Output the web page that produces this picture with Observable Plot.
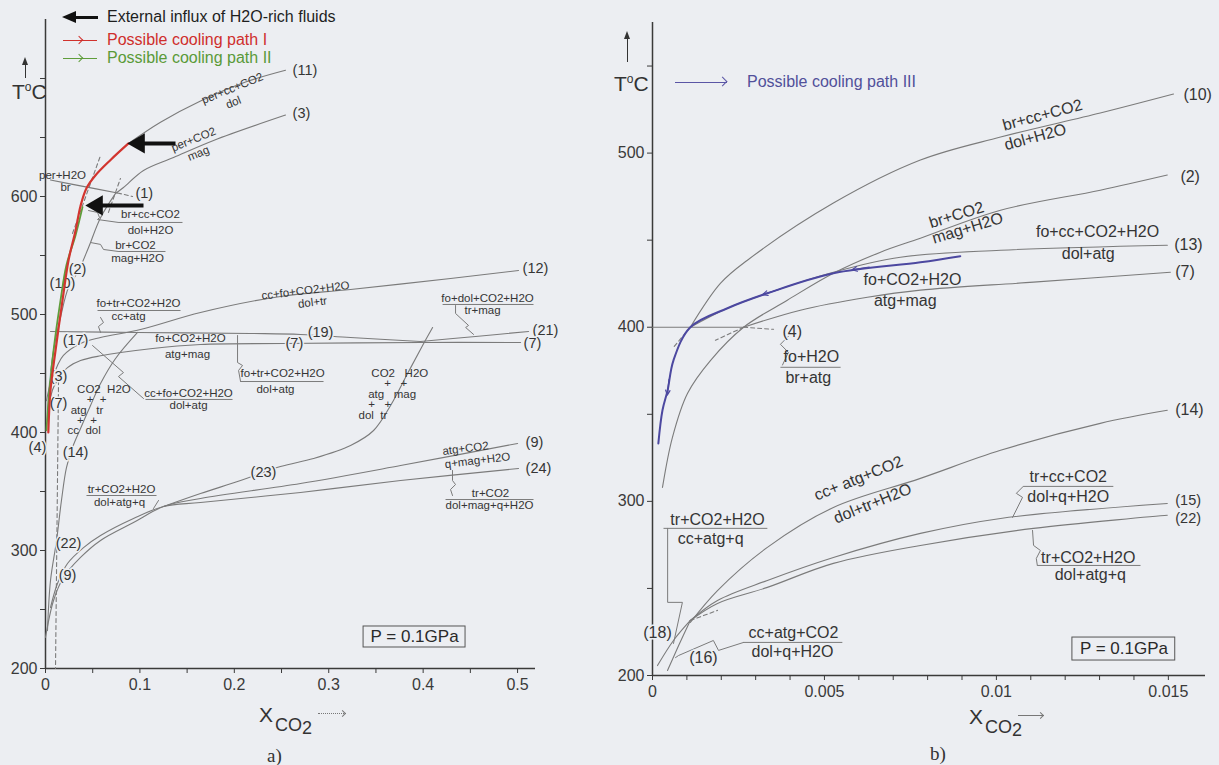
<!DOCTYPE html>
<html><head><meta charset="utf-8">
<script src="https://cdn.jsdelivr.net/npm/d3@7"></script>
<script src="https://cdn.jsdelivr.net/npm/@observablehq/plot@0.6"></script>
<style>
html,body{margin:0;padding:0;background:#eceef2;}
#page{position:relative;width:1219px;height:765px;overflow:hidden;font-family:"Liberation Sans",Arial,Helvetica,sans-serif;color:#333;}
.panel{position:absolute;top:0;}
.abs{position:absolute;white-space:nowrap;line-height:1;}
.hl{position:absolute;height:0;}
.vl{position:absolute;width:0;}
.triL{position:absolute;width:0;height:0;border-top:6px solid transparent;border-bottom:6px solid transparent;border-right:14px solid #111;}
.triU{position:absolute;width:0;height:0;border-left:3px solid transparent;border-right:3px solid transparent;border-bottom:8px solid #333;}
.chev{position:absolute;width:5px;height:5px;transform:rotate(45deg);}
</style></head>
<body><div id="page">
<div id="pa" class="panel" style="left:0;width:600px;height:765px"></div>
<div id="pb" class="panel" style="left:600px;width:619px;height:765px"></div>

<!-- legend panel a -->
<div class="triL" style="left:62px;top:11px"></div>
<div class="hl" style="left:75px;top:15.5px;width:23px;border-top:3px solid #111"></div>
<div class="abs" style="left:107px;top:9px;font-size:16px;color:#1e1e1e">External influx of H2O-rich fluids</div>
<div class="hl" style="left:63px;top:39.5px;width:34px;border-top:1.5px solid #d0312d"></div>
<div class="chev" style="left:76px;top:37px;border-top:1.3px solid #d0312d;border-right:1.3px solid #d0312d"></div>
<div class="abs" style="left:107px;top:32px;font-size:16px;color:#cf2e2c">Possible cooling path I</div>
<div class="hl" style="left:63px;top:57.5px;width:34px;border-top:1.5px solid #5f9d3b"></div>
<div class="chev" style="left:76px;top:55px;border-top:1.3px solid #5f9d3b;border-right:1.3px solid #5f9d3b"></div>
<div class="abs" style="left:107px;top:50px;font-size:16px;color:#5a9a38">Possible cooling path II</div>

<!-- T axis labels -->
<div class="triU" style="left:22px;top:57px"></div>
<div class="vl" style="left:24.5px;top:62px;height:16px;border-left:1.3px solid #333"></div>
<div class="abs" style="left:12px;top:81px;font-size:21px">T<sup style="font-size:12px">o</sup>C</div>
<div class="triU" style="left:624px;top:31px"></div>
<div class="vl" style="left:626.5px;top:36px;height:26px;border-left:1.3px solid #333"></div>
<div class="abs" style="left:614px;top:73px;font-size:21px">T<sup style="font-size:12px">o</sup>C</div>

<!-- legend panel b -->
<div class="hl" style="left:675px;top:81.5px;width:52px;border-top:1.3px solid #5a55a5"></div>
<div class="chev" style="left:719px;top:78px;width:6px;height:6px;border-top:1.3px solid #5a55a5;border-right:1.3px solid #5a55a5"></div>
<div class="abs" style="left:747px;top:74px;font-size:16px;color:#51509a">Possible cooling path III</div>

<!-- X axis titles -->
<div class="abs" style="left:259px;top:704px;font-size:21px">X<span style="font-size:18px;position:relative;top:9px;margin-left:2px">CO<span style="position:relative;top:3px">2</span></span></div>
<div class="hl" style="left:318px;top:713px;width:28px;border-top:1px dotted #777"></div>
<div class="chev" style="left:340px;top:710.5px;width:4px;height:4px;border-top:1px solid #777;border-right:1px solid #777"></div>
<div class="abs" style="left:267px;top:746px;font-size:19px;font-family:'Liberation Serif',serif">a)</div>

<div class="abs" style="left:969px;top:706px;font-size:21px">X<span style="font-size:18px;position:relative;top:9px;margin-left:2px">CO<span style="position:relative;top:3px">2</span></span></div>
<div class="hl" style="left:1018px;top:715px;width:26px;border-top:1px solid #777"></div>
<div class="chev" style="left:1038px;top:712.5px;width:4px;height:4px;border-top:1px solid #777;border-right:1px solid #777"></div>
<div class="abs" style="left:930px;top:744px;font-size:19px;font-family:'Liberation Serif',serif">b)</div>
</div>

<script>
const sp = n => "\u00A0".repeat(n);
// ================= Panel a  (X_CO2 , T in °C) =================
const a_xDomain = [0, 0.519];
const a_yDomain = [200, 750];
const a_xTicks = [0,0.05,0.1,0.15,0.2,0.25,0.3,0.35,0.4,0.45,0.5];
const a_xTickLabels = [0,0.1,0.2,0.3,0.4,0.5];
const a_yTicks = [200,250,300,350,400,450,500,550,600,650,700];
const a_yTickLabels = [200,300,400,500,600];

const a_curve11 = [[0.0879,645],[0.1218,663],[0.1642,681],[0.2119,697],[0.2542,707]];
const a_curve1  = [[0.0053,614],[0.0371,609],[0.0763,603]];
const a_curve3  = [[0.0742,602.6],[0.0826,607.6],[0.1038,622],[0.1356,633],[0.178,647.5],[0.2542,669]];
const a_curve2  = [[0.0742,602.6],[0.0583,582],[0.0456,556.8],[0.035,537],[0.0244,523],[0.0159,497.5],[0.0085,469.5],[0.0042,441.5],[0.002,410]];
const a_curve12 = [[0.001,427],[0.0053,441.5],[0.0127,456.8],[0.019,465.3],[0.0371,475.4],[0.0583,480.5],[0.1006,487.3],[0.1642,501.7],[0.2489,515.3],[0.3231,521.2],[0.429,530.5],[0.5011,537.3]];
const a_curve17 = [[0.0053,485.6],[0.0975,484.8],[0.2172,483.9],[0.2701,483.1],[0.3231,480.5],[0.3972,477.1]];
const a_curve21 = [[0.3972,477.1],[0.4555,481.4],[0.5117,485.6]];
const a_curve7  = [[0.003,413],[0.0074,436],[0.0159,448],[0.0233,455],[0.0371,461],[0.0583,465],[0.1112,471],[0.1642,474.6],[0.2521,475.4],[0.3972,476.3],[0.5032,476.3]];
const a_curve14 = [[0.0975,484.8],[0.0742,462.7],[0.0583,441.5],[0.0477,422.9],[0.0371,403.4],[0.0286,387.3],[0.0222,370.3],[0.0169,342.4],[0.0117,308.5],[0.0053,274.6],[0.0021,232.2]];
const a_curve23 = [[0.125,337.3],[0.1642,348.3],[0.2066,359.3],[0.2489,371.2],[0.2839,378],[0.3231,389],[0.3475,401.7],[0.3655,422.9],[0.3835,450],[0.3994,473.7],[0.41,489]];
const a_curve9  = [[0,226.3],[0.0085,257.6],[0.019,277.1],[0.0371,294.1],[0.0583,308.5],[0.0932,323.7],[0.125,337.3],[0.1642,344.1],[0.2701,356.8],[0.3761,372],[0.5,390.7]];
const a_curve22 = [[0.0053,251.7],[0.0127,272],[0.0233,289],[0.0403,302.5],[0.0583,312.7],[0.0932,327.1],[0.125,337.3],[0.1642,340.7],[0.2701,349.2],[0.3761,359.3],[0.5011,369.5]];
const a_dashed = [
  [[0.0286,568.7],[0.0583,634.8]],
  [[0.0667,586.5],[0.0794,615.3]],
  [[0.0763,603],[0.0922,600]],
  [[0.0138,444],[0.0106,200]]
];
const a_pathI  = [[0.0879,645],[0.0689,631],[0.053,618],[0.0434,607],[0.0371,592],[0.0318,571],[0.0244,546],[0.018,512],[0.0106,469.5],[0.0053,436],[0.003,400]];
const a_pathII = [[0.0392,591],[0.0318,567],[0.0222,542],[0.0159,512],[0.0085,469.5],[0.0042,436],[0.001,402]];
const a_influx = [
  {x1:0.1038, y1:592.4, x2:0.0545, y2:592.4},
  {x1:0.1377, y1:645,   x2:0.0990, y2:645}
];
const a_bars = [
  {x1:0.0773,x2:0.1451,y:578},{x1:0.0773,x2:0.1271,y:553.4},{x1:0.0551,x2:0.143,y:503.4},
  {x1:0.1059,x2:0.1981,y:428},{x1:0.2066,x2:0.2945,y:443.2},{x1:0.4206,x2:0.5169,y:508.5},
  {x1:0.4237,x2:0.5169,y:343.2},{x1:0.0434,x2:0.1176,y:346.6}
];
const a_pointers = [
  [[0.0583,497.5],[0.0614,493.2],[0.0561,489.8],[0.0583,484.8]],
  [[0.0498,473.7],[0.0826,450.8],[0.0773,447.4],[0.1038,428.8]],
  [[0.2034,482.2],[0.2034,459.3],[0.2087,456.8],[0.2045,452.6],[0.2066,443.2]],
  [[0.4343,507.6],[0.4343,500.9],[0.4481,490.7],[0.445,489],[0.4534,483.1]],
  [[0.4311,367.8],[0.4311,359.3],[0.4343,355.9],[0.429,351.7],[0.4311,346.6]],
  [[0.1197,342.4],[0.1144,335.6]],
  [[0.0456,588.1],[0.0551,586.5],[0.0572,582.2],[0.0551,580.5],[0.0773,578]],
  [[0.0477,561],[0.0583,559.4],[0.0614,555.1],[0.0773,553.4]]
];
const a_reactionLabels = [
  {t:"per+cc+CO2",x:0.198,y:691.6,r:-22},{t:"dol",x:0.199,y:679.7,r:-22},
  {t:"per+CO2",x:0.1568,y:648.3,r:-22},{t:"mag",x:0.162,y:636.5,r:-22},
  {t:"per+H2O",x:0.018,y:617.8,r:0},{t:"br",x:0.0212,y:607.6,r:0},
  {t:"br+cc+CO2",x:0.1112,y:584.8,r:0},{t:"dol+H2O",x:0.1112,y:571.2,r:0},
  {t:"br+CO2",x:0.0953,y:558.5,r:0},{t:"mag+H2O",x:0.0975,y:548,r:0},
  {t:"fo+tr+CO2+H2O",x:0.0985,y:509.3,r:0},{t:"cc+atg",x:0.0879,y:498.3,r:0},
  {t:"fo+CO2+H2O",x:0.1536,y:479.5,r:0},{t:"atg+mag",x:0.1504,y:466,r:0},
  {t:"cc+fo+CO2+H2O",x:0.2754,y:520.3,r:-7},{t:"dol+tr",x:0.2828,y:510.2,r:-7},
  {t:"fo+dol+CO2+H2O",x:0.4682,y:513.6,r:0},{t:"tr+mag",x:0.4629,y:503.4,r:0},
  {t:"fo+tr+CO2+H2O",x:0.2511,y:450,r:0},{t:"dol+atg",x:0.2436,y:436.5,r:0},
  {t:"cc+fo+CO2+H2O",x:0.1515,y:433,r:0},{t:"dol+atg",x:0.1515,y:422.9,r:0},
  {t:"atg+CO2",x:0.4449,y:386.5,r:-7},{t:"q+mag+H2O",x:0.4576,y:376.3,r:-7},
  {t:"tr+CO2",x:0.4714,y:348.3,r:0},{t:"dol+mag+q+H2O",x:0.4703,y:338.1,r:0},
  {t:"tr+CO2+H2O",x:0.0805,y:351.7,r:0},{t:"dol+atg+q",x:0.0784,y:340.7,r:0}
];
// phase-field annotations on both sides of the two steep curves (one block per field group)
const a_groupLeft = [{x:0.0233, y:418.9, t:[
  sp(3)+"CO2"+sp(2)+"H2O", sp(6)+"+"+sp(2)+"+", sp(1)+"atg"+sp(3)+"tr", sp(3)+"+"+sp(2)+"+", "cc"+sp(2)+"dol"].join("\n")}];
const a_groupRight = [{x:0.3316, y:432.2, t:[
  sp(4)+"CO2"+sp(3)+"H2O", sp(8)+"+"+sp(3)+"+", sp(3)+"atg"+sp(3)+"mag", sp(3)+"+"+sp(3)+"+", "dol"+sp(2)+"tr"].join("\n")}];
const a_numLabelsStart = [
  {t:"(11)",x:0.2617,y:706.8},{t:"(3)",x:0.2617,y:670.4},{t:"(1)",x:0.0953,y:602.6},
  {t:"(12)",x:0.5053,y:539},{t:"(21)",x:0.5159,y:486.5},{t:"(7)",x:0.5064,y:475.4},
  {t:"(9)",x:0.5085,y:391.5},{t:"(24)",x:0.5085,y:369.5},{t:"(7)",x:0.2542,y:475.4}
];
const a_numLabelsMid = [
  {t:"(2)",x:0.0339,y:538.2},{t:"(10)",x:0.018,y:526.3},{t:"(17)",x:0.0318,y:478},
  {t:"(19)",x:0.2913,y:484.8},{t:"(3)",x:0.0138,y:447.5},{t:"(7)",x:0.0138,y:424.6},
  {t:"(4)",x:-0.0085,y:387.3},{t:"(14)",x:0.0318,y:383},{t:"(23)",x:0.2309,y:366},
  {t:"(22)",x:0.0244,y:306},{t:"(9)",x:0.0233,y:278.8}
];
const a_pBox = [{x1:0.3369,x2:0.4449,y1:217.8,y2:235.6,t:"P = 0.1GPa",x:0.3909,y:226.7}];

// ================= Panel b =================
const b_xDomain = [0, 0.01608];
const b_yDomain = [200, 575];
const b_xTicks = [0,0.001,0.002,0.003,0.004,0.005,0.006,0.007,0.008,0.009,0.01,0.011,0.012,0.013,0.014,0.015];
const b_xTickLabels = [0,0.005,0.01,0.015];
const b_yTicks = [200,250,300,350,400,450,500,550];
const b_yTickLabels = [200,300,400,500];

const b_curve10 = [[0.0011,400],[0.00198,425.3],[0.00276,438.5],[0.00526,471.3],[0.00779,496],[0.01012,509.2],[0.01302,523],[0.01515,533.9]];
const b_curve2  = [[0.00029,308],[0.00058,336.8],[0.00102,362.1],[0.00169,381],[0.00265,400],[0.00392,415.5],[0.00526,431],[0.00663,443.1],[0.00779,451.1],[0.01012,467.2],[0.01302,478.7],[0.01497,487.4]];
const b_curve13 = [[0.0011,400],[0.00218,410.9],[0.00334,419.5],[0.00526,431.6],[0.00721,440.2],[0.01012,444.2],[0.01497,447.1]];
const b_curve4  = [[0,400],[0.00265,400]];
const b_curve7  = [[0.00265,400],[0.0043,409.8],[0.00625,417.2],[0.00779,421.3],[0.01108,425.9],[0.01506,431.6]];
const b_curve14 = [[0.0011,230.5],[0.00189,248.8],[0.00334,273.6],[0.00526,296.5],[0.00779,313.2],[0.01012,329.3],[0.01302,344.8],[0.01497,352.3]];
const b_curve15 = [[0.0011,231.6],[0.00189,243.1],[0.00334,254.6],[0.00526,267.8],[0.00779,281.6],[0.01012,290.2],[0.01497,298.8]];
const b_curve22 = [[0.0011,231.6],[0.00189,241.4],[0.00334,250.6],[0.00526,264.4],[0.00779,274.7],[0.01108,284.5],[0.01497,292]];
const b_curve18 = [[0.000145,205.7],[0.00061,220.1],[0.0011,231.6]];
const b_curve16 = [[0.000436,202.9],[0.00076,217.2],[0.0011,231.6]];
const b_dashed = [
  [[0.0011,400],[0.00061,388.5]],
  [[0.00265,400],[0.00352,398.8]],
  [[0.00265,400],[0.00183,392.5]],
  [[0.0011,231.6],[0.00189,237.4]]
];
const b_pathIII = [[0.00895,440.8],[0.00779,437.3],[0.00526,431],[0.00334,419.5],[0.00218,410.9],[0.0011,400],[0.00061,381],[0.00044,363.8],[0.00029,352.3],[0.00017,333.3]];
const b_pathArrows = [
  {x1:0.0063,y1:434.6,x2:0.0058,y2:433.0},
  {x1:0.0037,y1:421.8,x2:0.0032,y2:418.7},
  {x1:0.00048,y1:370,x2:0.00043,y2:361}
];
const b_bars = [
  {x1:0.00372,x2:0.00547,y:377},{x1:0.01078,x2:0.0134,y:308.6},{x1:0.01119,x2:0.01419,y:263.2},
  {x1:0.00032,x2:0.00334,y:284.5},{x1:0.00265,x2:0.00552,y:219}
];
const b_pointers = [
  [[0.00395,394.8],[0.00372,390.2],[0.00395,385.6],[0.00378,378.3]],
  [[0.01078,308.6],[0.01058,304.6],[0.01076,302.3],[0.01047,290.8]],
  [[0.01105,283.3],[0.01108,274.7],[0.01128,271.8],[0.01116,267.2],[0.01119,263.2]],
  [[0.00044,284.5],[0.00044,242],[0.00087,242],[0.00061,218.4]],
  [[0.00265,219],[0.00192,214.4],[0.00177,220.1],[0.00076,211.5],[0.00067,210.3]]
];
const b_reactionLabels = [
  {t:"br+cc+CO2",x:0.01134,y:521.8,r:-15},{t:"dol+H2O",x:0.01113,y:509.2,r:-15},
  {t:"br+CO2",x:0.00884,y:464.4,r:-17},{t:"mag+H2O",x:0.00916,y:456.9,r:-17},
  {t:"fo+cc+CO2+H2O",x:0.01294,y:454.6,r:0},{t:"dol+atg",x:0.01267,y:442,r:0},
  {t:"fo+CO2+H2O",x:0.00756,y:427,r:0},{t:"atg+mag",x:0.00735,y:415,r:0},
  {t:"fo+H2O",x:0.00462,y:382.7,r:0},{t:"br+atg",x:0.00453,y:370.7,r:0},
  {t:"cc+ atg+CO2",x:0.00599,y:313.2,r:-22},{t:"dol+tr+H2O",x:0.0064,y:298.8,r:-22},
  {t:"tr+cc+CO2",x:0.01209,y:313.8,r:0},{t:"dol+q+H2O",x:0.01209,y:302.3,r:0},
  {t:"tr+CO2+H2O",x:0.01267,y:267.8,r:0},{t:"dol+atg+q",x:0.01273,y:257.5,r:0},
  {t:"tr+CO2+H2O",x:0.00189,y:289.1,r:0},{t:"cc+atg+q",x:0.00169,y:278.7,r:0},
  {t:"cc+atg+CO2",x:0.0041,y:224.7,r:0},{t:"dol+q+H2O",x:0.00407,y:213.8,r:0}
];
const b_numLabelsStart = [
  {t:"(10)",x:0.01544,y:533.3},{t:"(2)",x:0.01535,y:486.2},{t:"(13)",x:0.01517,y:447.1},
  {t:"(7)",x:0.0152,y:431.6},{t:"(14)",x:0.0152,y:352.3},{t:"(4)",x:0.00378,y:397.1}
];
const b_numLabelsPair = [{t:"(15)",x:0.0152,y:300.3},{t:"(22)",x:0.0152,y:290.0}];
const b_numLabelsMid = [{t:"(18)",x:0.000145,y:224.7},{t:"(16)",x:0.00148,y:210.3}];
const b_pBox = [{x1:0.01221,x2:0.0152,y1:208.6,y2:221.8,t:"P = 0.1GPa",x:0.01371,y:215.2}];

// ================= drawing =================
const BG = "#eceef2", GRAY = "#7b7b7b", TXT = "#353535", AX = "#3a3a3a";
const FONT = "'Liberation Sans', Arial, Helvetica, sans-serif";
const rows = (id, pts) => pts.map(([x, y]) => ({id, x, y}));
const many = (list, prefix) => list.flatMap((pts, i) => rows(prefix + i, pts));

function panel(o) {
  return Plot.plot({
    width: o.width, height: 765,
    marginLeft: o.range[0], marginRight: o.width - o.range[1], marginTop: o.yRange[1], marginBottom: 765 - o.yRange[0],
    x: {domain: o.xDomain, range: o.range},
    y: {domain: o.yDomain, range: o.yRange},
    style: {background: "transparent", fontFamily: FONT, color: TXT, overflow: "visible"},
    marks: [
      Plot.ruleY([o.yDomain[0]], {x1: o.xDomain[0], x2: o.xDomain[1], stroke: AX, strokeWidth: 1.5}),
      Plot.ruleX([o.xDomain[0]], {y1: o.yDomain[0], y2: o.yDomain[1], stroke: AX, strokeWidth: 1.5}),
      Plot.axisX({ticks: o.xTicks, tickFormat: d => o.xTickLabels.includes(d) ? String(d) : "", tickSize: 5, tickPadding: 5, fontSize: 16, label: null, color: AX}),
      Plot.axisY({ticks: o.yTicks, tickFormat: d => o.yTickLabels.includes(d) ? String(d) : "", tickSize: 5, tickPadding: 3, fontSize: 16, label: null, color: AX}),
      Plot.line(o.curves, {x: "x", y: "y", z: "id", stroke: GRAY, strokeWidth: 1.1, curve: "catmull-rom"}),
      Plot.line(o.dashed, {x: "x", y: "y", z: "id", stroke: GRAY, strokeWidth: 1.1, strokeDasharray: "4,3"}),
      Plot.line(o.pointers, {x: "x", y: "y", z: "id", stroke: GRAY, strokeWidth: 1}),
      Plot.link(o.bars, {x1: "x1", x2: "x2", y1: "y", y2: "y", stroke: GRAY, strokeWidth: 1}),
      Plot.rect(o.pBox, {x1: "x1", x2: "x2", y1: "y1", y2: "y2", fill: "none", stroke: "#555", strokeWidth: 1}),
      Plot.text(o.pBox, {x: "x", y: "y", text: "t", fontSize: 17, fill: "#2a2a2a"}),
      Plot.text(o.reaction, {x: "x", y: "y", text: "t", rotate: "r", fontSize: o.reactSize, fill: TXT}),
      Plot.text(o.numStart, {x: "x", y: "y", text: "t", textAnchor: "start", fontSize: o.numSize, fill: TXT, stroke: BG, strokeWidth: 3, paintOrder: "stroke"}),
      Plot.text(o.numMid, {x: "x", y: "y", text: "t", fontSize: o.numSize, fill: TXT, stroke: BG, strokeWidth: 3, paintOrder: "stroke"}),
      ...o.extra
    ]
  });
}

const aCurves = [a_curve11, a_curve1, a_curve3, a_curve2, a_curve12, a_curve17, a_curve21, a_curve7, a_curve14, a_curve23, a_curve9, a_curve22];
const plotA = panel({
  width: 600, range: [45, 535], yRange: [668, 19],
  xDomain: a_xDomain, yDomain: a_yDomain, xTicks: a_xTicks, xTickLabels: a_xTickLabels, yTicks: a_yTicks, yTickLabels: a_yTickLabels,
  curves: many(aCurves, "a"), dashed: many(a_dashed, "ad"), pointers: many(a_pointers, "ap"), bars: a_bars, pBox: a_pBox,
  reaction: a_reactionLabels, reactSize: 11.5, numStart: a_numLabelsStart, numMid: a_numLabelsMid, numSize: 14.5,
  extra: [
    Plot.text(a_groupLeft, {x: "x", y: "y", text: "t", textAnchor: "start", fontSize: 11.5, lineHeight: 0.9, fill: TXT}),
    Plot.text(a_groupRight, {x: "x", y: "y", text: "t", textAnchor: "start", fontSize: 11.5, lineHeight: 0.9, fill: TXT}),
    Plot.line(rows("pathII", a_pathII), {x: "x", y: "y", stroke: "#5f9d3b", strokeWidth: 1.8, curve: "catmull-rom"}),
    Plot.line(rows("pathI", a_pathI), {x: "x", y: "y", stroke: "#d2352f", strokeWidth: 2.2, curve: "catmull-rom"}),
    Plot.link(a_influx, {x1: "x1", y1: "y1", x2: "x2", y2: "y2", stroke: "#111", strokeWidth: 4}),
    Plot.dot(a_influx, {x: "x2", y: "y2", symbol: "triangle", rotate: -90, r: 7.5, fill: "#111", stroke: "none"})
  ]
});
document.getElementById("pa").appendChild(plotA);

const bCurves = [b_curve10, b_curve2, b_curve13, b_curve4, b_curve7, b_curve14, b_curve15, b_curve22, b_curve18, b_curve16];
const plotB = panel({
  width: 619, range: [52, 605], yRange: [675, 22],
  xDomain: b_xDomain, yDomain: b_yDomain, xTicks: b_xTicks, xTickLabels: b_xTickLabels, yTicks: b_yTicks, yTickLabels: b_yTickLabels,
  curves: many(bCurves, "b"), dashed: many(b_dashed, "bd"), pointers: many(b_pointers, "bp"), bars: b_bars, pBox: b_pBox,
  reaction: b_reactionLabels, reactSize: 16, numStart: b_numLabelsStart, numMid: b_numLabelsMid, numSize: 16,
  extra: [
    Plot.text(b_numLabelsPair, {x: "x", y: "y", text: "t", textAnchor: "start", fontSize: 14.5, fill: TXT, stroke: BG, strokeWidth: 3, paintOrder: "stroke"}),
    Plot.line(rows("pathIII", b_pathIII), {x: "x", y: "y", stroke: "#4c48a0", strokeWidth: 2, curve: "catmull-rom"}),
    Plot.arrow(b_pathArrows, {x1: "x1", y1: "y1", x2: "x2", y2: "y2", stroke: "#4c48a0", strokeWidth: 1.2, headLength: 7, headAngle: 50})
  ]
});
document.getElementById("pb").appendChild(plotB);
</script>
</body></html>
